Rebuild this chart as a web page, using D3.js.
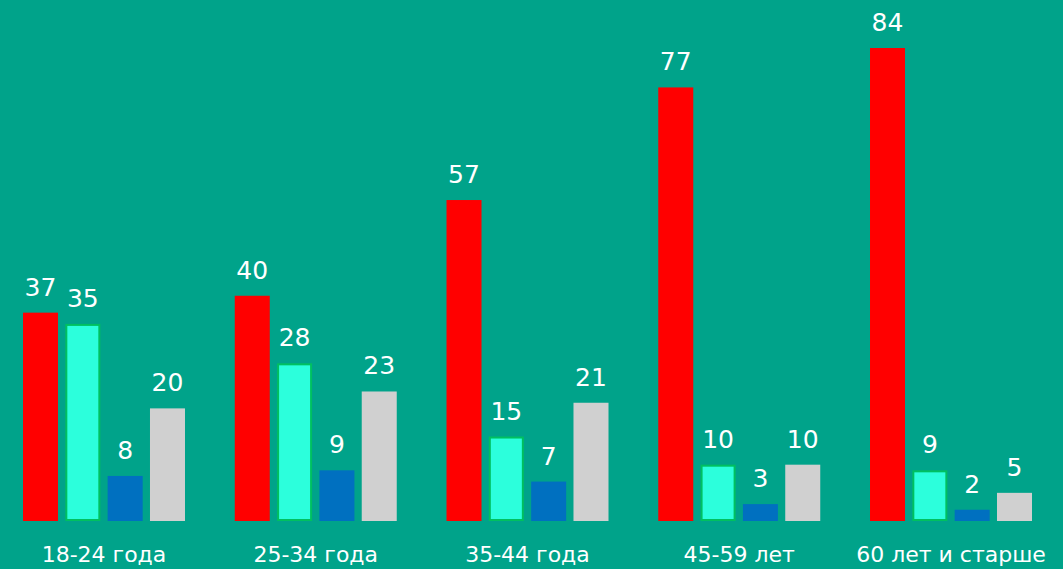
<!DOCTYPE html>
<html>
<head>
<meta charset="utf-8">
<script src="https://cdn.jsdelivr.net/npm/d3@7"></script>
<style>
  html, body { margin: 0; padding: 0; background: #00A38A; }
  svg { display: block; font-family: 'DejaVu Sans', sans-serif; }
</style>
</head>
<body>
<svg id="chart" width="1063" height="569"></svg>
<script>
const categories = ['18-24 года', '25-34 года', '35-44 года', '45-59 лет', '60 лет и старше'];
const seriesKeys = ['s1', 's2', 's3', 's4'];
const s1 = [37, 40, 57, 77, 84];
const s2 = [35, 28, 15, 10, 9];
const s3 = [8, 9, 7, 3, 2];
const s4 = [20, 23, 21, 10, 5];
const seriesValues = [s1, s2, s3, s4];

const fills = ['#FF0000', '#2CFFDC', '#0070C0', '#D0D0D0'];
const strokes = ['none', '#00C060', 'none', 'none'];

const svg = d3.select('#chart');
const baseY = 521;

const x0 = d3.scaleBand().domain(categories).range([23, 1032]).paddingInner(0.235).paddingOuter(0);
const x1 = d3.scaleBand().domain(seriesKeys).range([0, x0.bandwidth()]).paddingInner(0.173).paddingOuter(0);
const y = d3.scaleLinear().domain([0, 84]).range([baseY, 48]);

const data = categories.map((c, i) => ({
  cat: c,
  vals: seriesKeys.map((k, j) => ({key: k, j: j, v: seriesValues[j][i]}))
}));

const groups = svg.selectAll('.grp')
  .data(data)
  .enter().append('g')
  .attr('class', 'grp')
  .attr('transform', d => 'translate(' + x0(d.cat) + ',0)');

// bars (the second series has a thin green outline)
groups.selectAll('rect')
  .data(d => d.vals)
  .enter().append('rect')
  .attr('x', d => x1(d.key) + (d.j === 1 ? 1 : 0))
  .attr('y', d => y(d.v) + (d.j === 1 ? 1 : 0))
  .attr('width', d => x1.bandwidth() - (d.j === 1 ? 2 : 0))
  .attr('height', d => baseY - y(d.v) - (d.j === 1 ? 2 : 0))
  .attr('fill', d => fills[d.j])
  .attr('stroke', d => strokes[d.j])
  .attr('stroke-width', 2);

groups.selectAll('.val')
  .data(d => d.vals)
  .enter().append('text')
  .attr('class', 'val')
  .attr('x', d => x1(d.key) + x1.bandwidth() / 2)
  .attr('y', d => y(d.v) - 17)
  .attr('text-anchor', 'middle')
  .attr('fill', '#fff')
  .style('font-size', '25px')
  .text(d => d.v);

svg.selectAll('.cat')
  .data(categories)
  .enter().append('text')
  .attr('class', 'cat')
  .attr('x', d => x0(d) + x0.bandwidth() / 2)
  .attr('y', 562)
  .attr('text-anchor', 'middle')
  .attr('fill', '#fff')
  .style('font-size', '22px')
  .text(d => d);
</script>
</body>
</html>
